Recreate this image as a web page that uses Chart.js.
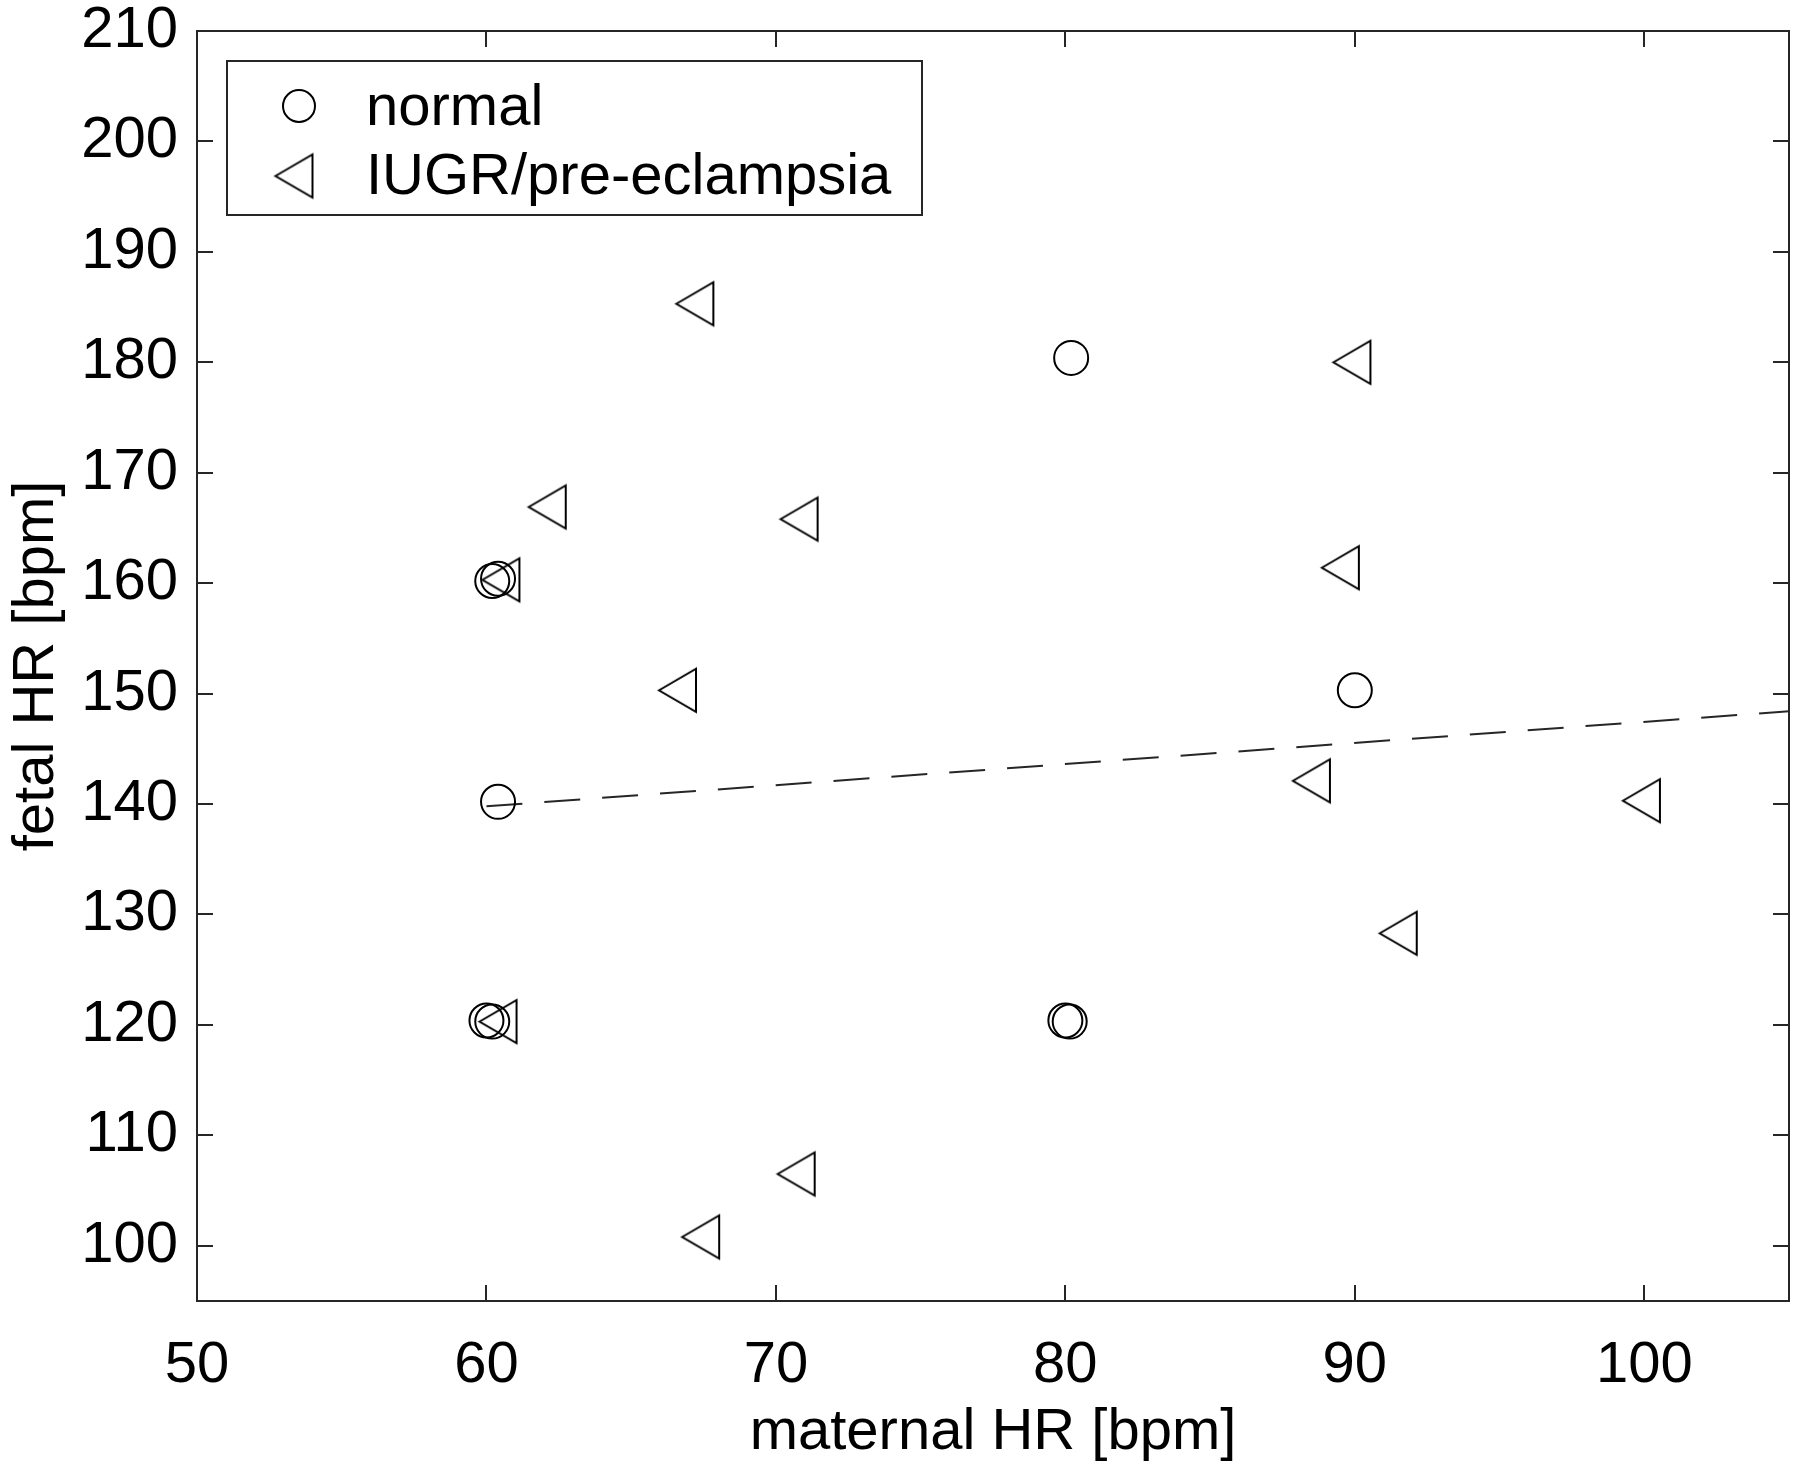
<!DOCTYPE html>
<html>
<head>
<meta charset="utf-8">
<title>fetal vs maternal HR</title>
<script src="https://cdn.jsdelivr.net/npm/chart.js@4.4.1/dist/chart.umd.min.js"></script>
<style>
  html, body { margin: 0; padding: 0; background: #fff; }
  #wrap { width: 1800px; height: 1475px; }
</style>
</head>
<body>
<div id="wrap"><canvas id="hrChart" width="1800" height="1475"></canvas></div>
<script>
// values
const normalX = [80.2, 60.2, 60.4, 90.0, 60.4, 60.0, 60.2, 80.0, 80.15];
const normalY = [180.4, 160.2, 160.4, 150.3, 140.2, 120.4, 120.3, 120.4, 120.3];

const iugrX = [67.2, 89.9, 62.1, 70.8, 89.5, 60.5, 66.6, 88.5, 99.9, 91.5, 60.4, 70.7, 67.4];
const iugrY = [185.3, 180.0, 166.9, 165.8, 161.4, 160.3, 150.3, 142.1, 140.3, 128.3, 120.3, 106.5, 100.8];

// dashed regression line
const trendX = [60, 105];
const trendY = [139.8, 148.4];

const xTicks = [50, 60, 70, 80, 90, 100];
const yTicks = [100, 110, 120, 130, 140, 150, 160, 170, 180, 190, 200, 210];

const FONT = "'Liberation Sans', Arial, Helvetica, sans-serif";
const ink = '#000';
const axisColor = '#262626';
const tickLen = 16;

// MATLAB-style '<' marker
function leftTriangle(w, h, lw) {
    const pad = 5;
    const c = document.createElement('canvas');
    c.width = Math.ceil(w + pad * 2);
    c.height = Math.ceil(h + pad * 2);
    const g = c.getContext('2d');
    const ox = (c.width - w) / 2, oy = (c.height - h) / 2;
    g.strokeStyle = ink;
    g.lineWidth = lw;
    g.beginPath();
    g.moveTo(ox, oy + h / 2);
    g.lineTo(ox + w, oy);
    g.lineTo(ox + w, oy + h);
    g.closePath();
    g.stroke();
    return c;
}
const triangleMarker = leftTriangle(37, 43, 2);

const toPoints = (xs, ys) => xs.map((x, i) => ({ x: x, y: ys[i] }));

const framePlugin = {
    id: 'matlabFrame',
    afterDraw(chart) {
        const { ctx, chartArea: a, scales } = chart;
        const x = scales.x, y = scales.y;
        ctx.save();
        ctx.strokeStyle = axisColor;
        ctx.lineWidth = 2;
        ctx.beginPath();
        x.ticks.forEach(t => {
            const px = Math.round(x.getPixelForValue(t.value));
            ctx.moveTo(px, a.bottom); ctx.lineTo(px, a.bottom - tickLen);
            ctx.moveTo(px, a.top); ctx.lineTo(px, a.top + tickLen);
        });
        y.ticks.forEach(t => {
            const py = Math.round(y.getPixelForValue(t.value));
            ctx.moveTo(a.left, py); ctx.lineTo(a.left + tickLen, py);
            ctx.moveTo(a.right, py); ctx.lineTo(a.right - tickLen, py);
        });
        ctx.stroke();
        ctx.strokeRect(a.left, a.top, a.right - a.left, a.bottom - a.top);

        // legend box in the upper left corner
        const box = { left: a.left + 30, top: a.top + 30, width: 695, height: 154 };
        ctx.fillStyle = '#fff';
        ctx.fillRect(box.left, box.top, box.width, box.height);
        ctx.strokeRect(box.left, box.top, box.width, box.height);

        const items = chart.data.datasets.filter(d => d.label);
        const markerY = [box.top + 45, box.top + 115];
        const textY = [box.top + 64, box.top + 133];
        ctx.font = '58px ' + FONT;
        ctx.fillStyle = ink;
        ctx.textBaseline = 'alphabetic';
        ctx.textAlign = 'left';
        items.forEach((d, i) => {
            const mx = box.left + 72;
            if (d.pointStyle === 'circle') {
                ctx.beginPath();
                ctx.strokeStyle = ink;
                ctx.arc(mx, markerY[i], 16, 0, Math.PI * 2);
                ctx.stroke();
            } else {
                const img = d.pointStyle;
                ctx.drawImage(img, mx - 5 - img.width / 2, markerY[i] - img.height / 2);
            }
            ctx.fillText(d.label, box.left + 139, textY[i]);
        });
        ctx.restore();
    }
};

new Chart(document.getElementById('hrChart'), {
    type: 'scatter',
    data: {
        datasets: [
            {
                label: 'normal',
                data: toPoints(normalX, normalY),
                pointStyle: 'circle',
                pointRadius: 17,
                borderWidth: 2,
                borderColor: ink,
                backgroundColor: 'rgba(0,0,0,0)'
            },
            {
                label: 'IUGR/pre-eclampsia',
                data: toPoints(iugrX, iugrY),
                pointStyle: triangleMarker,
                pointRadius: 20,
                borderWidth: 2,
                borderColor: ink,
                backgroundColor: 'rgba(0,0,0,0)'
            },
            {
                data: toPoints(trendX, trendY),
                showLine: true,
                pointRadius: 0,
                borderWidth: 2,
                borderColor: axisColor,
                borderDash: [36, 22],
                fill: false
            }
        ]
    },
    options: {
        responsive: false,
        animation: false,
        events: [],
        layout: { autoPadding: false, padding: { top: 31, right: 11, left: 0, bottom: 0 } },
        plugins: {
            legend: { display: false },
            tooltip: { enabled: false }
        },
        scales: {
            x: {
                type: 'linear',
                min: 50,
                max: 105,
                afterBuildTicks: s => { s.ticks = xTicks.map(v => ({ value: v })); },
                afterFit: s => { s.height = 174; s.paddingLeft = 0; s.paddingRight = 0; },
                grid: { display: false, drawTicks: false },
                border: { display: false },
                ticks: {
                    color: ink,
                    padding: 36,
                    maxRotation: 0,
                    autoSkip: false,
                    font: { family: FONT, size: 58, lineHeight: 1 }
                },
                title: {
                    display: true,
                    text: 'maternal HR [bpm]',
                    color: ink,
                    font: { family: FONT, size: 58, lineHeight: 1 },
                    padding: { top: 0, bottom: 13 }
                }
            },
            y: {
                type: 'linear',
                min: 95,
                max: 210,
                afterBuildTicks: s => { s.ticks = yTicks.map(v => ({ value: v })); },
                afterFit: s => { s.width = 197; s.paddingTop = 0; s.paddingBottom = 0; },
                grid: { display: false, drawTicks: false },
                border: { display: false },
                ticks: {
                    color: ink,
                    padding: 19,
                    autoSkip: false,
                    font: { family: FONT, size: 58, lineHeight: 1 }
                },
                title: {
                    display: true,
                    text: 'fetal HR [bpm]',
                    color: ink,
                    font: { family: FONT, size: 58, lineHeight: 1 },
                    padding: { top: 8, bottom: 0 }
                }
            }
        }
    },
    plugins: [framePlugin]
});
</script>
</body>
</html>
